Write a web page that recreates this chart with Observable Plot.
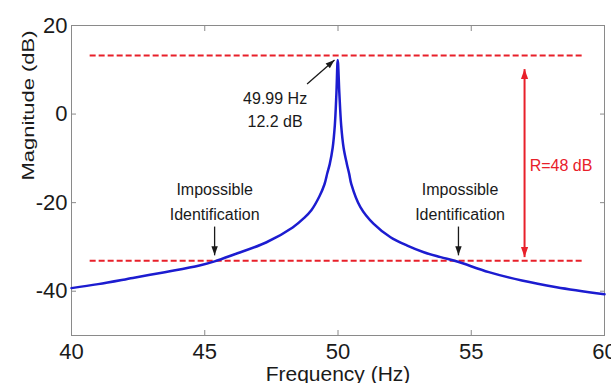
<!DOCTYPE html>
<html>
<head>
<meta charset="utf-8">
<script src="https://cdn.jsdelivr.net/npm/d3@7"></script>
<script src="https://cdn.jsdelivr.net/npm/@observablehq/plot@0.6"></script>
<style>
  html, body { margin: 0; padding: 0; background: #fff; }
  #chart svg { display: block; }
</style>
</head>
<body>
<div id="chart"></div>
<script>
// ---- data ----
const freq = [40.0, 41.0, 42.3, 43.5, 44.8, 45.4, 46.1, 47.3, 48.3, 48.72, 49.0, 49.3, 49.49, 49.6, 49.69, 49.80, 49.88, 49.94, 49.99,
              50.05, 50.12, 50.21, 50.33, 50.42, 50.5, 50.84, 51.34, 51.97, 52.6, 53.22, 53.85, 54.47, 55.66, 56.9, 58.2, 60.0];
const magnitude = [-39.3, -38.4, -37.0, -35.7, -34.2, -33.2, -31.7, -29.0, -25.6, -23.5, -21.7, -18.6, -15.9, -13.3, -11.3, -7.6, -2.6, 4.6, 12.2,
                   4.8, -2.6, -7.6, -11.2, -13.5, -15.8, -21.0, -24.8, -27.8, -29.7, -31.2, -32.3, -33.3, -35.7, -37.6, -39.1, -40.7];

const xTicks = [40, 45, 50, 55, 60];
const xTickLabels = ["40", "45", "50", "55", "60"];
const yTicks = [20, 0, -20, -40];
const yTickLabels = ["20", "0", "-20", "-40"];

const thresholdLevels = [13.2, -33.1];
const thresholdStart = 40.7;
const thresholdEnd = 59.2;

// annotation arrows (black)
const arrowX1 = [48.84, 45.37, 54.52];
const arrowY1 = [6.8, -25.4, -25.4];
const arrowX2 = [49.87, 45.37, 54.52];
const arrowY2 = [12.2, -31.9, -31.9];
const arrowAngle = [49, 180, 180];

// range arrow (red, double headed)
const rangeX = 57.0;
const rangeTop = 10.15;
const rangeBottom = -32.3;

// annotation texts
const noteText = ["49.99 Hz", "12.2 dB", "Impossible", "Identification", "Impossible", "Identification"];
const noteX = [47.64, 47.64, 45.37, 45.37, 54.58, 54.58];
const noteY = [3.5, -1.7, -17.05, -22.7, -17.05, -22.7];
const rangeLabel = "R=48 dB";
const rangeLabelX = 58.37;
const rangeLabelY = -11.6;

const xLabel = "Frequency (Hz)";
const yLabel = "Magnitude (dB)";

// ---- styles ----
const RED = "#e8202a";
const BLUE = "#1c1cd0";
const GRAY = "#8a8a8a";
const INK = "#1a1a1a";
const NARROW = "'Liberation Sans Narrow', 'Arial Narrow', 'Liberation Sans', Arial, sans-serif";
const SANS = "'Liberation Sans', Arial, sans-serif";

const headShape = {
  draw(context, l, r) {
    context.moveTo(0, -l);
    context.lineTo(-r, 0);
    context.lineTo(r, 0);
    context.closePath();
  }
};

const xFmt = d => xTickLabels[xTicks.indexOf(d)];
const yFmt = d => yTickLabels[yTicks.indexOf(d)];

const chart = Plot.plot({
  width: 611,
  height: 383,
  marginLeft: 71,
  marginRight: 7,
  marginTop: 25,
  marginBottom: 48,
  x: {domain: [40, 60]},
  y: {domain: [-50, 20]},
  style: {fontFamily: SANS, background: "#fff", color: INK},
  marks: [
    Plot.frame({stroke: GRAY, strokeWidth: 1}),
    Plot.axisX(xTicks, {anchor: "bottom", tickSize: -5, tickPadding: 13, tickFormat: xFmt, label: null,
      stroke: GRAY, fill: INK, fontSize: 22, fontFamily: NARROW}),
    Plot.axisX(xTicks, {anchor: "top", tickSize: -5, tickFormat: () => "", label: null, stroke: GRAY}),
    Plot.axisY(yTicks, {anchor: "left", tickSize: -5, tickPadding: 9, tickFormat: yFmt, label: null,
      stroke: GRAY, fill: INK, fontSize: 22, fontFamily: NARROW}),
    Plot.axisY(yTicks, {anchor: "right", tickSize: -5, tickFormat: () => "", label: null, stroke: GRAY}),

    // threshold dashed lines
    Plot.ruleY(thresholdLevels, {x1: thresholdStart, x2: thresholdEnd, stroke: RED, strokeWidth: 2, strokeDasharray: "6,3"}),

    // frequency response
    Plot.line(magnitude, {x: freq, y: d => d, stroke: BLUE, strokeWidth: 2.5, curve: "catmull-rom"}),

    // black arrows
    Plot.link(arrowX1, {x1: arrowX1, y1: arrowY1, x2: arrowX2, y2: arrowY2, stroke: INK, strokeWidth: 1.3}),
    Plot.vector(arrowX2, {x: arrowX2, y: arrowY2, rotate: arrowAngle, length: 9, r: 3.2, anchor: "end",
      shape: headShape, fill: INK, stroke: "none"}),

    // red range arrow
    Plot.link([rangeX], {x1: rangeX, y1: rangeTop, x2: rangeX, y2: rangeBottom, stroke: RED, strokeWidth: 2}),
    Plot.vector([rangeTop, rangeBottom], {x: rangeX, y: d => d, rotate: [0, 180], length: 10, r: 3.6, anchor: "end",
      shape: headShape, fill: RED, stroke: "none"}),

    // texts
    Plot.text(noteText, {x: noteX, y: noteY, text: d => d, fontSize: 16, fontFamily: SANS, fill: INK, textAnchor: "middle"}),
    Plot.text([rangeLabel], {x: rangeLabelX, y: rangeLabelY, text: d => d, fontSize: 16, fontFamily: SANS, fill: RED, textAnchor: "middle"}),

    // axis titles
    Plot.text([xLabel], {frameAnchor: "bottom", dy: 31, lineAnchor: "top", text: d => d, fontSize: 21, fontFamily: NARROW, fill: INK}),
    Plot.text([yLabel], {frameAnchor: "left", dx: -43, rotate: -90, text: d => d, fontSize: 17, fontFamily: SANS, fill: INK})
  ]
});

// stretch the vertical title along its length like the reference
d3.select(chart).selectAll("text").filter(function() { return this.textContent === yLabel; })
  .attr("textLength", 150).attr("lengthAdjust", "spacingAndGlyphs");

document.getElementById("chart").appendChild(chart);
</script>
</body>
</html>
